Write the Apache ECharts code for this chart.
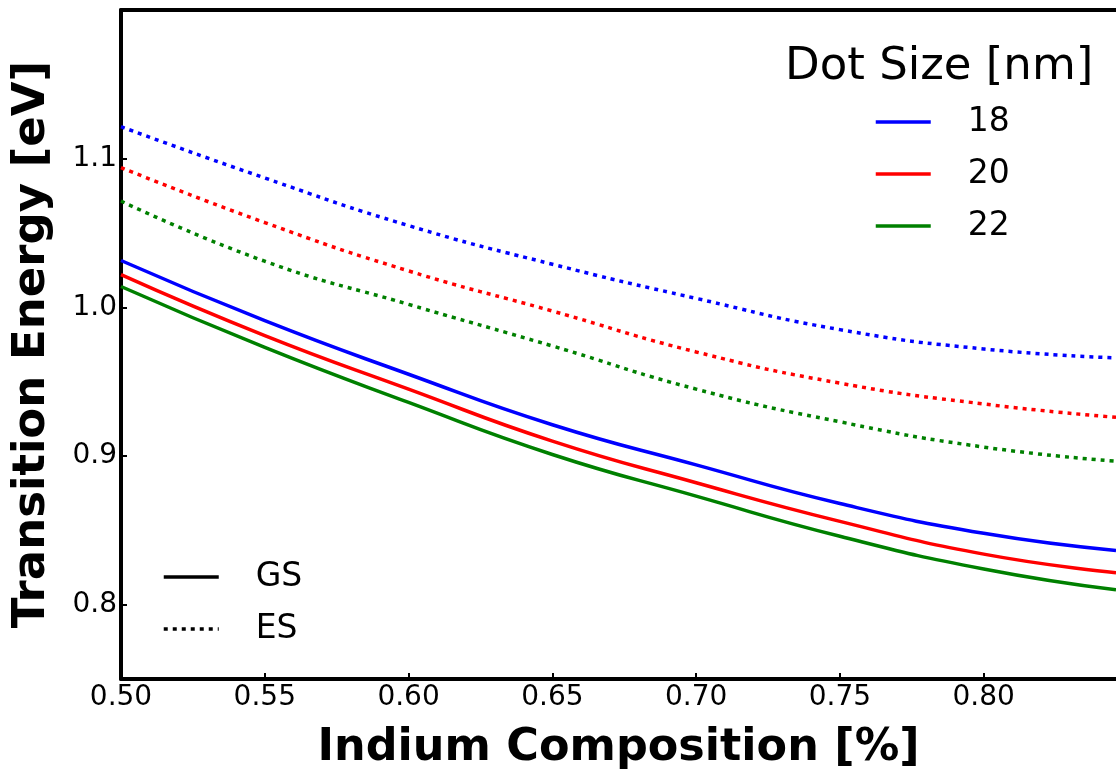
<!DOCTYPE html>
<html>
<head>
<meta charset="utf-8">
<script src="https://cdn.jsdelivr.net/npm/echarts@6/dist/echarts.min.js"></script>
<style>
  html, body { margin: 0; padding: 0; background: #fff; }
  #main { width: 1116px; height: 769px; }
</style>
</head>
<body>
<div id="main"></div>
<script>
// indium composition (x) where the curves were read
const composition = [0.50, 0.55, 0.60, 0.65, 0.70, 0.75, 0.80, 0.846];

// ground state transition energy [eV]
const gs18 = [1.0315, 0.991, 0.955, 0.921, 0.894, 0.868, 0.848, 0.8365];
const gs20 = [1.022, 0.981, 0.945, 0.910, 0.882, 0.856, 0.834, 0.8215];
const gs22 = [1.014, 0.973, 0.936, 0.901, 0.873, 0.846, 0.824, 0.810];

// excited state transition energy [eV]
const es18 = [1.1215, 1.087, 1.055, 1.029, 1.006, 0.985, 0.972, 0.966];
const es20 = [1.094, 1.057, 1.0245, 0.9975, 0.970, 0.949, 0.935, 0.926];
const es22 = [1.0715, 1.031, 1.002, 0.974, 0.945, 0.923, 0.906, 0.8965];

const dotSizes = ['18', '20', '22'];
const colors = ['#0000ff', '#ff0000', '#008000'];

const FONT = 'DejaVu Sans';

function pairs(ys) {
    return composition.map((x, i) => [x, ys[i]]);
}

function curve(name, ys, color, dotted) {
    return {
        name: name,
        type: 'line',
        data: pairs(ys),
        smooth: 0.5,
        symbol: 'none',
        silent: true,
        lineStyle: { color: color, width: 3.5, type: dotted ? [4, 5] : 'solid', cap: 'butt' },
        itemStyle: { color: color }
    };
}

function legendBox(names, left, top) {
    return {
        data: names,
        orient: 'vertical',
        left: left,
        top: top,
        padding: 0,
        itemWidth: 55,
        itemHeight: 14,
        itemGap: 16,
        selectedMode: false,
        itemStyle: { opacity: 0 },
        lineStyle: { width: 3.5 },
        textStyle: { fontFamily: FONT, fontSize: 33, color: '#000', lineHeight: 36, padding: [0, 0, 0, 32] }
    };
}

const chartDom = document.getElementById('main');
const myChart = echarts.init(chartDom, null, { renderer: 'canvas' });

const option = {
    animation: false,
    backgroundColor: '#fff',
    textStyle: { fontFamily: FONT },
    grid: { left: 121, right: 0, top: 10, bottom: 90, outerBoundsMode: 'none', containLabel: false },
    title: {
        text: 'Dot Size [nm]',
        left: 785,
        top: 45,
        padding: 0,
        textStyle: { fontFamily: FONT, fontSize: 45, fontWeight: 'normal', color: '#000' }
    },
    legend: [
        legendBox(dotSizes, 874, 104),
        legendBox(['GS', 'ES'], 162, 559)
    ],
    xAxis: [
        {
            type: 'value',
            min: 0.5,
            max: 0.846,
            interval: 0.05,
            name: 'Indium Composition [%]',
            nameLocation: 'middle',
            nameGap: 47,
            nameTextStyle: { fontFamily: FONT, fontSize: 44.5, fontWeight: 'bold', color: '#000' },
            axisLine: { lineStyle: { color: '#000', width: 4 } },
            axisTick: { inside: true, length: 6, lineStyle: { color: '#000', width: 2 } },
            axisLabel: {
                margin: 5,
                showMaxLabel: false,
                fontFamily: FONT,
                fontSize: 28,
                color: '#000',
                formatter: v => v.toFixed(2)
            },
            splitLine: { show: false }
        },
        {
            type: 'value',
            position: 'top',
            min: 0.5,
            max: 0.846,
            axisLine: { lineStyle: { color: '#000', width: 4 } },
            axisTick: { show: false },
            axisLabel: { show: false },
            splitLine: { show: false }
        }
    ],
    yAxis: {
        type: 'value',
        min: 0.75,
        max: 1.2,
        splitNumber: 5,
        name: 'Transition Energy [eV]',
        nameLocation: 'middle',
        nameGap: 66,
        nameTextStyle: { fontFamily: FONT, fontSize: 45, fontWeight: 'bold', color: '#000' },
        axisLine: { lineStyle: { color: '#000', width: 4 } },
        axisTick: { inside: true, length: 6, lineStyle: { color: '#000', width: 2 } },
        axisLabel: {
            margin: 4,
            showMinLabel: false,
            showMaxLabel: false,
            fontFamily: FONT,
            fontSize: 28,
            color: '#000',
            formatter: v => v.toFixed(1)
        },
        splitLine: { show: false }
    },
    series: [
        curve('18', gs18, colors[0], false),
        curve('20', gs20, colors[1], false),
        curve('22', gs22, colors[2], false),
        curve('18 ES', es18, colors[0], true),
        curve('20 ES', es20, colors[1], true),
        curve('22 ES', es22, colors[2], true),
        { name: 'GS', type: 'line', data: [], symbol: 'none', lineStyle: { color: '#000', width: 3.5, type: 'solid' }, itemStyle: { color: '#000' } },
        { name: 'ES', type: 'line', data: [], symbol: 'none', lineStyle: { color: '#000', width: 3.5, type: [4, 5] }, itemStyle: { color: '#000' } }
    ]
};

myChart.setOption(option);
</script>
</body>
</html>
